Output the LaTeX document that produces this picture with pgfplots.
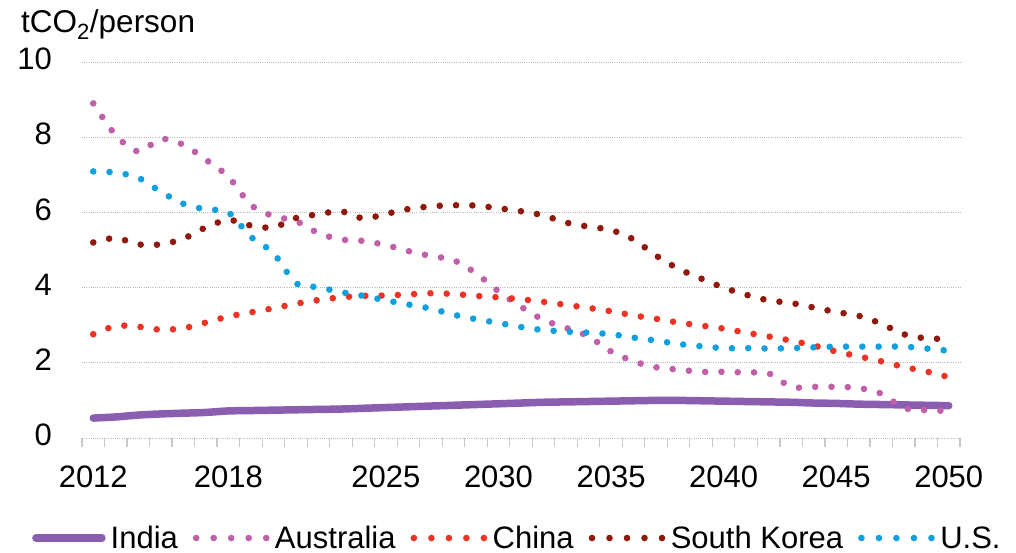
\documentclass[border=0pt]{standalone}
\usepackage{fontspec}
\setmainfont{Liberation Sans}
\usepackage{pgfplots}
\usepackage{pgfplotstable}
\pgfplotsset{compat=1.18}
\definecolor{cIndia}{RGB}{139,93,177}
\definecolor{cAus}{RGB}{192,96,168}
\definecolor{cChina}{RGB}{238,50,36}
\definecolor{cSK}{RGB}{145,24,12}
\definecolor{cUS}{RGB}{16,160,222}
\definecolor{cGrid}{RGB}{185,185,185}
\definecolor{cAxis}{RGB}{200,200,200}
\pgfplotstableread{
year India Aus China SK US
2012 0.53 8.90 2.76 5.20 7.09
2013 0.56 8.05 2.98 5.32 7.06
2014 0.61 7.62 2.96 5.15 6.92
2015 0.64 7.95 2.88 5.15 6.55
2016 0.66 7.80 2.92 5.30 6.23
2017 0.68 7.40 3.07 5.60 6.08
2018 0.72 6.95 3.23 5.80 6.00
2019 0.73 6.20 3.34 5.65 5.35
2020 0.74 5.90 3.45 5.60 4.92
2021 0.75 5.77 3.57 5.85 4.12
2022 0.76 5.45 3.67 5.95 4.01
2023 0.77 5.28 3.74 6.03 3.88
2024 0.79 5.24 3.78 5.84 3.78
2025 0.81 5.13 3.79 5.96 3.66
2026 0.83 4.97 3.82 6.09 3.55
2027 0.85 4.84 3.85 6.16 3.44
2028 0.87 4.73 3.83 6.19 3.28
2029 0.89 4.38 3.78 6.18 3.16
2030 0.91 3.90 3.74 6.11 3.06
2031 0.93 3.49 3.69 6.03 2.95
2032 0.95 3.14 3.62 5.92 2.87
2033 0.96 2.93 3.54 5.73 2.83
2034 0.97 2.70 3.46 5.62 2.80
2035 0.98 2.30 3.37 5.53 2.76
2036 0.99 2.04 3.26 5.28 2.67
2037 1.00 1.88 3.17 4.85 2.59
2038 1.00 1.82 3.07 4.50 2.50
2039 0.99 1.76 2.99 4.24 2.44
2040 0.98 1.76 2.91 4.00 2.39
2041 0.97 1.74 2.80 3.81 2.39
2042 0.96 1.72 2.70 3.66 2.38
2043 0.95 1.36 2.59 3.59 2.39
2044 0.93 1.36 2.46 3.47 2.41
2045 0.92 1.36 2.30 3.35 2.43
2046 0.90 1.33 2.17 3.25 2.43
2047 0.89 1.18 2.04 3.04 2.43
2048 0.88 0.80 1.89 2.76 2.43
2049 0.87 0.74 1.77 2.65 2.38
2050 0.86 0.72 1.62 2.64 2.32
}\datatable
\pgfplotsset{dotline/.style={line width=6.6pt, line cap=round, dash pattern=on 0pt off 16.3pt, smooth}}
\begin{document}
\begin{tikzpicture}[font=\fontsize{31}{37}\selectfont]
\path[use as bounding box] (0pt,0pt) rectangle (1016pt,553pt);
\begin{axis}[
  at={(82pt,115pt)}, anchor=south west, scale only axis,
  width=878pt, height=376pt,
  xmin=2011.5, xmax=2050.5, ymin=0, ymax=10,
  axis line style={draw=none},
  xtick={2012,2018,2025,2030,2035,2040,2045,2050},
  minor xtick={2011.5,2012.5,...,2050.5},
  ytick={0,2,4,6,8,10},
  xtick pos=left,
  xtick align=outside,
  major tick length=0pt, minor tick length=9pt,
  minor tick style={draw=cAxis, line width=1.2pt},
  ymajorgrids,
  major grid style={draw=cGrid, line width=0.9pt, dash pattern=on 1pt off 1.2pt},
  extra y ticks={0}, extra y tick labels={},
  extra y tick style={grid style={solid, draw=cAxis, line width=1.5pt}},
  tick label style={font=\fontsize{31}{37}\selectfont, inner sep=0pt},
  /pgf/number format/assume math mode=true,
  /pgf/number format/1000 sep={},
  xticklabel style={anchor=base, yshift=-50pt},
  yticklabel style={anchor=east, xshift=-30pt, yshift=3pt},
  legend columns=5,
  legend style={at={(-0.0604,-0.266)}, anchor=west, draw=none, fill=none,
    font=\fontsize{31}{37}\selectfont,
    nodes={inner sep=0pt},
    /tikz/every odd column/.append style={column sep=5pt},
    /tikz/every even column/.append style={column sep=15pt}},
  legend image code/.code={\draw[#1, dash pattern=on 0pt off 17.5pt] (0pt,0pt) -- (70.5pt,0pt);},
  clip=false,
]
\addplot[cIndia, line width=7.5pt, line cap=round, smooth,
  legend image code/.code={\draw[cIndia, line width=7.5pt, line cap=round] (0pt,0pt) -- (66pt,0pt);}] table[x=year,y=India] {\datatable};
\addlegendentry{India}
\addplot[cAus, dotline] table[x=year,y=Aus] {\datatable};
\addlegendentry{Australia}
\addplot[cChina, dotline] table[x=year,y=China] {\datatable};
\addlegendentry{China}
\addplot[cSK, dotline] table[x=year,y=SK] {\datatable};
\addlegendentry{South Korea}
\addplot[cUS, dotline] table[x=year,y=US] {\datatable};
\addlegendentry{U.S.}
\end{axis}
\node[anchor=base west, inner sep=0pt, font=\fontsize{31.5}{37}\selectfont] at (21pt,520.7pt) {tCO\textsubscript{2}/person};
\end{tikzpicture}
\end{document}
